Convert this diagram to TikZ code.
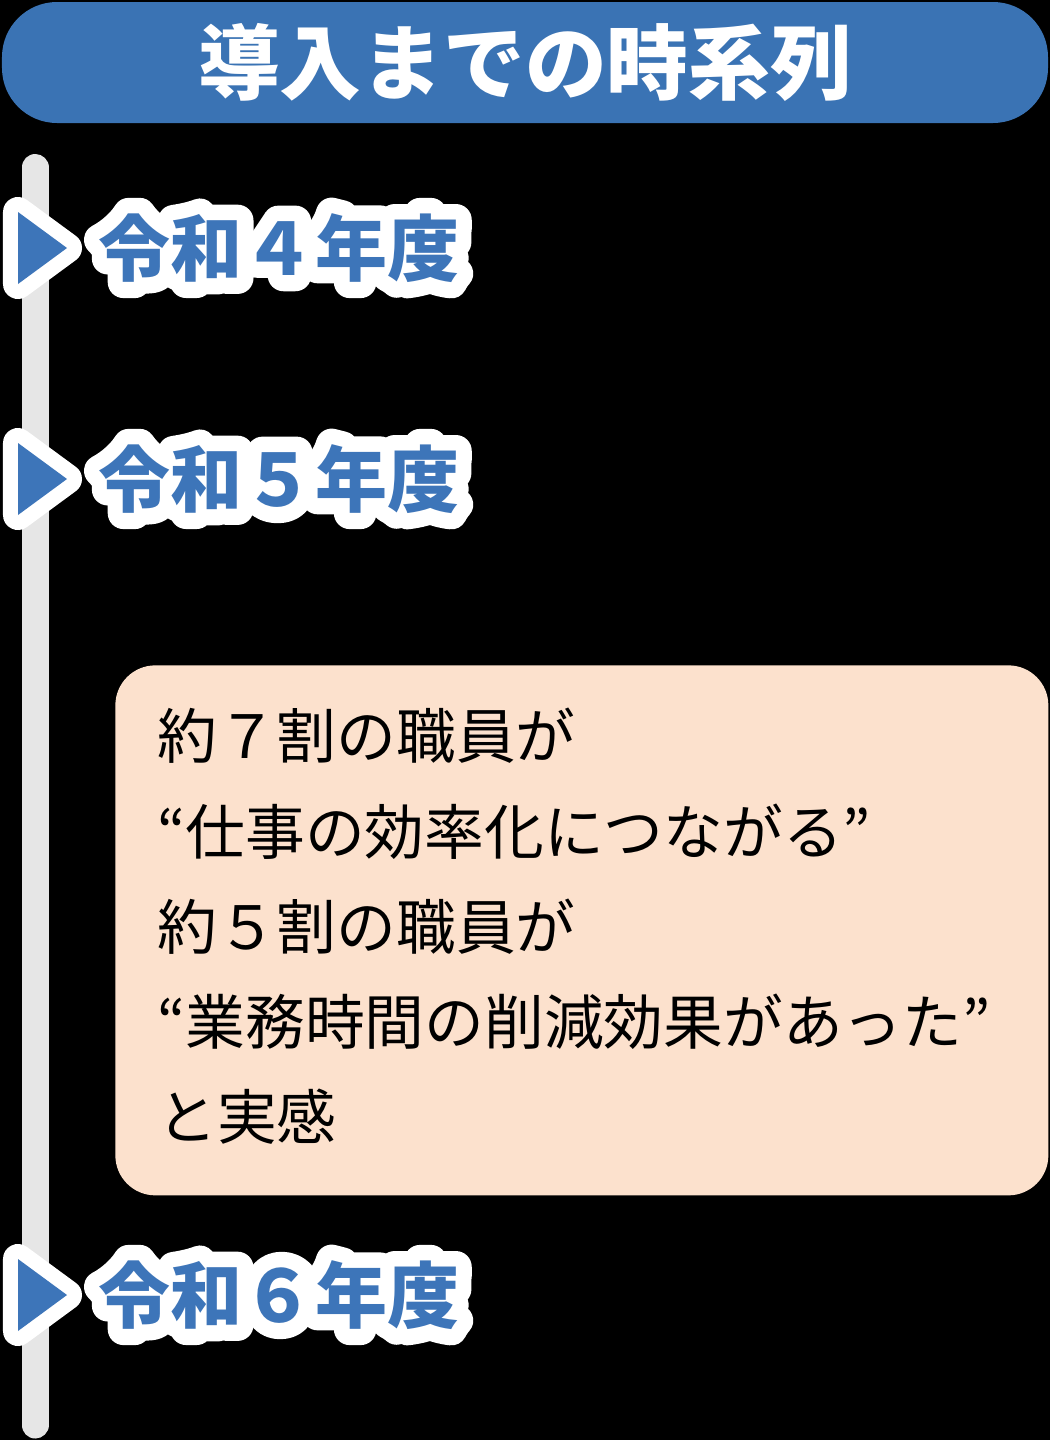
\documentclass[tikz,border=0pt]{standalone}
\usepackage{fontspec}
\setmainfont{Noto Sans CJK JP}
\definecolor{titleblue}{RGB}{58, 115, 180}
\definecolor{markblue}{RGB}{61, 117, 185}
\definecolor{notepeach}{RGB}{252, 225, 205}
\definecolor{railgrey}{RGB}{230, 230, 230}
\usetikzlibrary{positioning}
% white halo drawn as stroked text under the label
\newcommand\halotext[1]{\textcolor{white}{\special{pdf:literal direct 1 j 1 J 18 w 1 Tr}#1\special{pdf:literal direct 0 Tr 0 j 0 J 0.4 w}}}

\begin{document}
\begin{tikzpicture}[
    yearlabel/.style={text=markblue, inner sep=0pt, font=\fontsize{41}{49}\selectfont\bfseries},
    yearhalo/.style={draw=white, line width=0.6cm, line join=round}
  ]
  % Background
  \fill[black] (0,0) rectangle (21,-28.8);
  \useasboundingbox (0,0) rectangle (21,-28.8);

  % Title
  \node[fill=titleblue, rounded corners=1.1cm, minimum width=20.92cm, minimum height=2.42cm, inner sep=0pt, text=white, font=\fontsize{46.5}{56}\selectfont\bfseries] (title) at (10.5,-1.25) {導入までの時系列};

  % Rail
  \coordinate (railtop) at (0.7,-3.35);
  \coordinate (railend) at (0.7,-28.5);
  \draw[railgrey, line width=0.54cm, line cap=round] (railtop) -- (railend);

  % Years
  \foreach \yy/\num/\nm in {-4.96/４/r4, -9.58/５/r5, -25.9/６/r6} {
    \draw[yearhalo] (0.36,\yy+0.72) -- (1.34,\yy) -- (0.36,\yy-0.72) -- cycle;
    \fill[markblue] (0.36,\yy+0.72) -- (1.34,\yy) -- (0.36,\yy-0.72) -- cycle;
    \node[yearlabel] (\nm) at (5.58,\yy) {\rlap{\halotext{令和\num 年度}}令和\num 年度};
  }

  % Result
  \node[fill=notepeach, rounded corners=0.8cm, anchor=north west, minimum width=18.66cm, minimum height=10.6cm, inner sep=0pt] (result) at (2.3,-13.3) {};
  \node[anchor=north west, inner sep=0pt, align=left, font=\fontsize{34}{54.2}\selectfont] (resulttext) at ([xshift=0.84cm, yshift=-0.86cm]result.north west) {
    約７割の職員が\\
    “仕事の効率化につながる”\\
    約５割の職員が\\
    “業務時間の削減効果があった”\\
    と実感
  };
\end{tikzpicture}
\end{document}
